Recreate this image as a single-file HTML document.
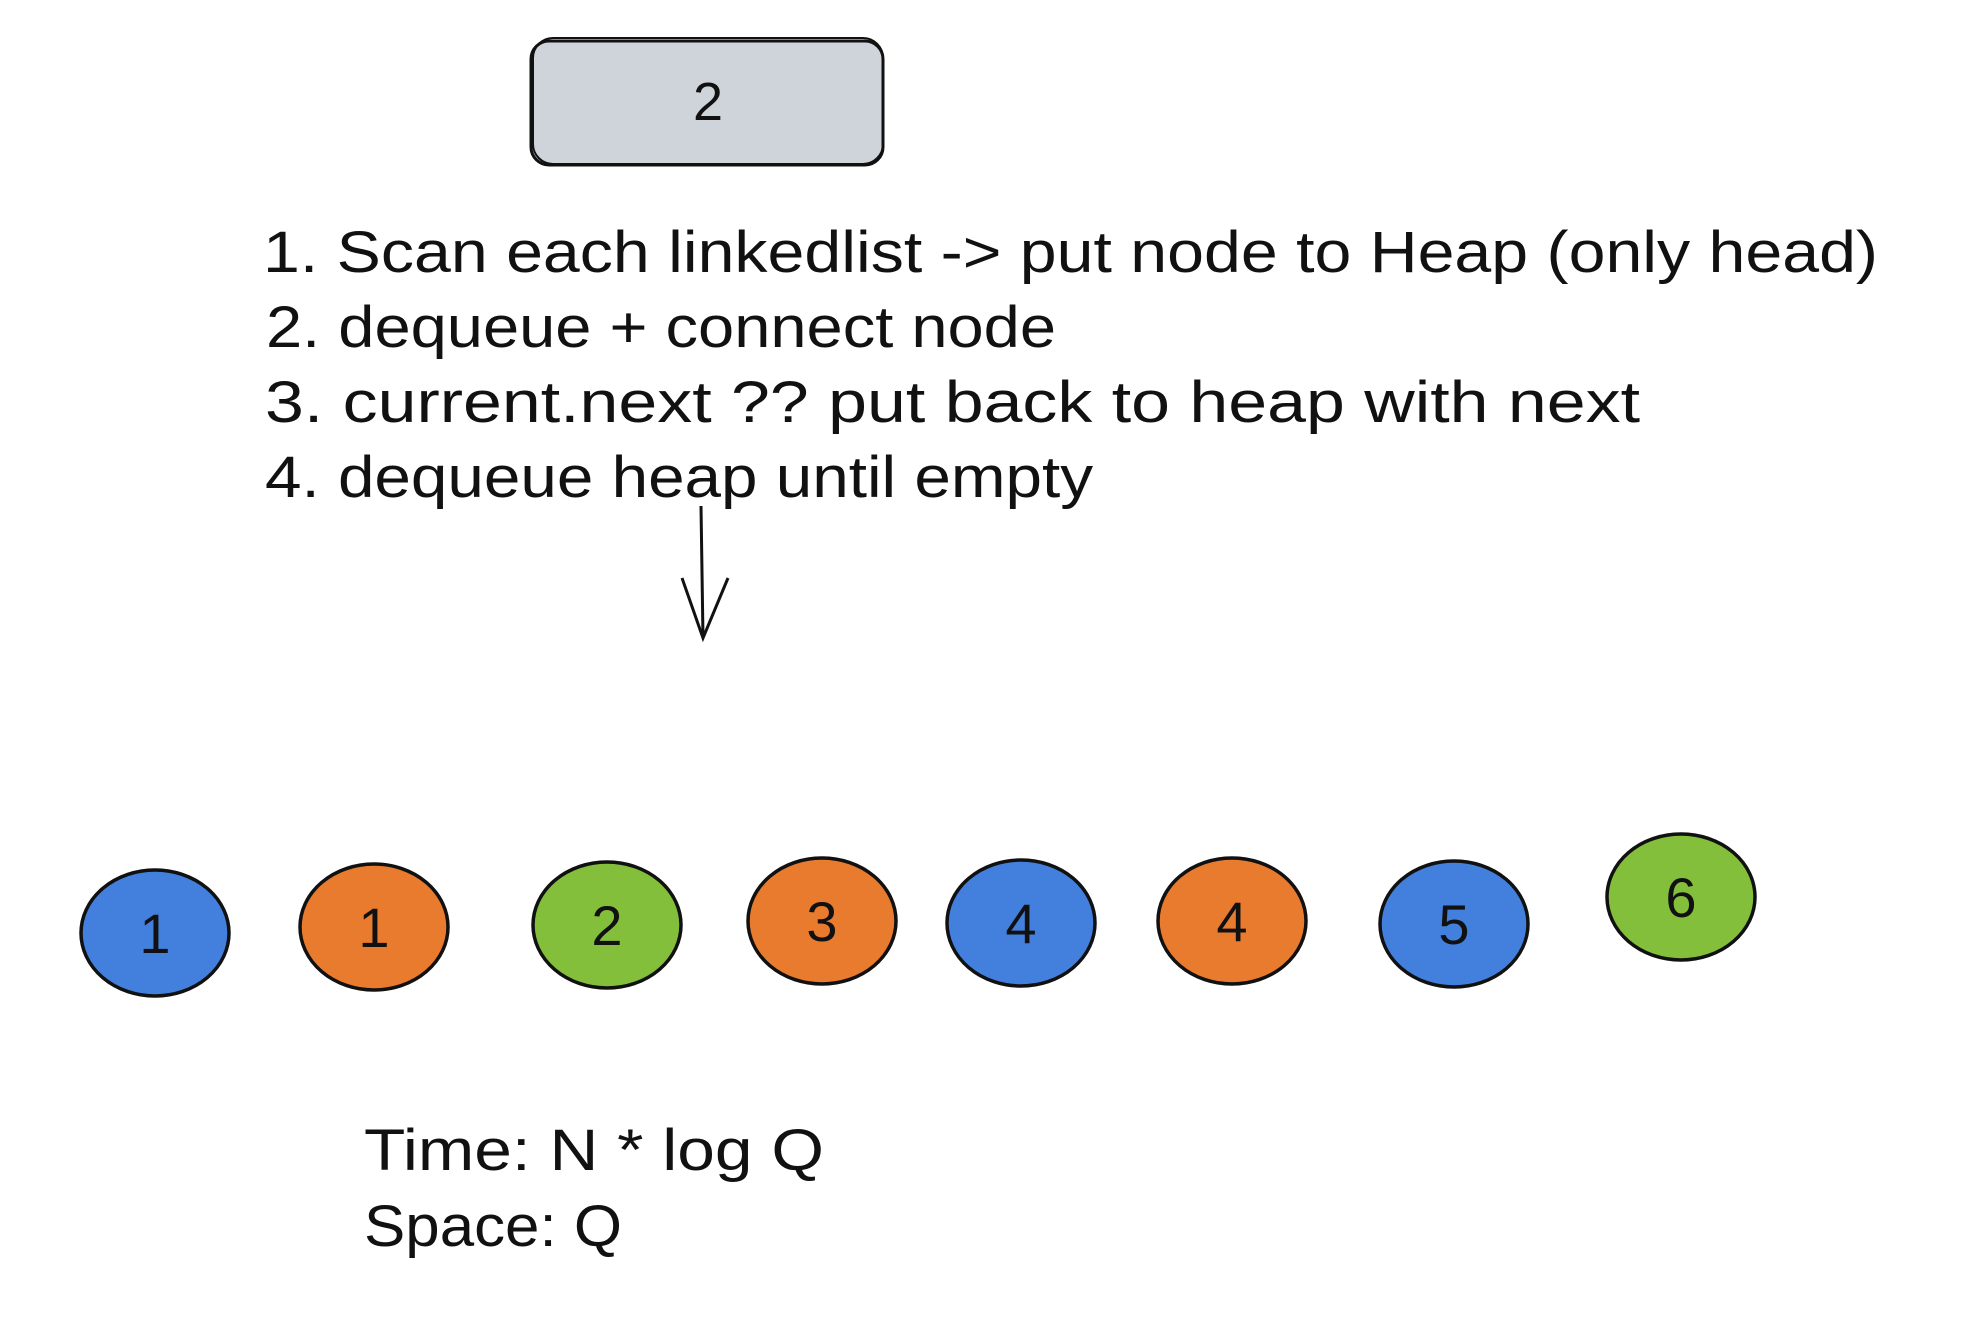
<!DOCTYPE html>
<html><head><meta charset="utf-8"><style>
html,body{margin:0;padding:0;background:#fff;width:1972px;height:1332px;overflow:hidden}
svg{display:block}
text{font-family:"Liberation Sans",sans-serif;fill:#111}
</style></head><body>
<svg id="s" width="1972" height="1332" viewBox="0 0 1972 1332">
<g>
<rect x="531" y="41" width="352" height="124" rx="18" fill="#ced4da" stroke="#111" stroke-width="3"/>
<rect x="533" y="38" width="350" height="126" rx="20" fill="none" stroke="#111" stroke-width="2"/>
<text x="708" y="120" font-size="54" text-anchor="middle">2</text>
</g>
<g font-size="58">
<text x="263" y="272" textLength="1615" lengthAdjust="spacingAndGlyphs">1. Scan each linkedlist -&gt; put node to Heap (only head)</text>
<text x="266" y="347" textLength="790" lengthAdjust="spacingAndGlyphs">2. dequeue + connect node</text>
<text x="265" y="422" textLength="1375" lengthAdjust="spacingAndGlyphs">3. current.next ?? put back to heap with next</text>
<text x="265" y="497" textLength="828" lengthAdjust="spacingAndGlyphs">4. dequeue heap until empty</text>
</g>
<g stroke="#111" stroke-width="3" fill="none">
<path d="M701 506 L703 638"/>
<path d="M682 578 L703 638 L728 578"/>
</g>
<g id="nodes"></g>
<g font-size="58">
<text x="364" y="1170" textLength="460" lengthAdjust="spacingAndGlyphs">Time: N * log Q</text>
<text x="364" y="1246" textLength="258" lengthAdjust="spacingAndGlyphs">Space: Q</text>
</g>
</svg>
<script>
const nodeValues = [1, 1, 2, 3, 4, 4, 5, 6];
const nodeLists = ["blue", "orange", "green", "orange", "blue", "orange", "blue", "green"];
const nodeX = [155, 374, 607, 822, 1021, 1232, 1454, 1681];
const nodeY = [933, 927, 925, 921, 923, 921, 924, 897];
const colors = {blue: "#4380dd", orange: "#e87b2e", green: "#84bf3b"};
const NS = "http://www.w3.org/2000/svg";
const g = document.getElementById("nodes");
nodeValues.forEach((v, i) => {
  const cx = nodeX[i], cy = nodeY[i];
  const grp = document.createElementNS(NS, "g");
  
  
  const e = document.createElementNS(NS, "ellipse");
  e.setAttribute("cx", cx); e.setAttribute("cy", cy);
  e.setAttribute("rx", 74); e.setAttribute("ry", 63);
  e.setAttribute("fill", colors[nodeLists[i]]);
  e.setAttribute("stroke", "#111"); e.setAttribute("stroke-width", "3.5");
  grp.appendChild(e);
  const t = document.createElementNS(NS, "text");
  t.setAttribute("x", cx); t.setAttribute("y", cy + 20);
  t.setAttribute("text-anchor", "middle"); t.setAttribute("font-size", "56");
  
  
  t.textContent = v;
  grp.appendChild(t);
  g.appendChild(grp);
});
</script>
</body></html>
